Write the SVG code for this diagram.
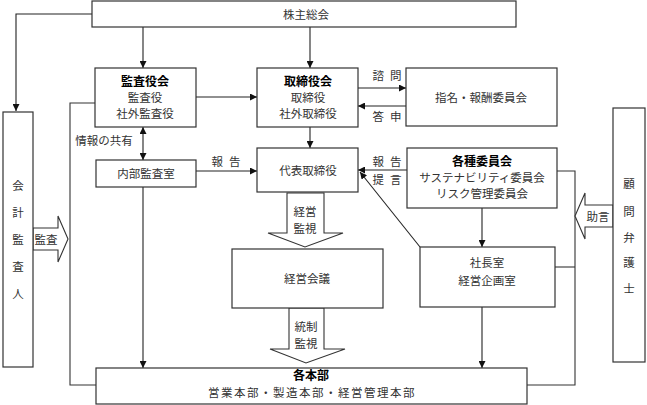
<svg xmlns="http://www.w3.org/2000/svg" width="647" height="405" viewBox="0 0 647 405">
<defs>
<marker id="ah" viewBox="0 0 10 10" refX="10" refY="5" markerWidth="7" markerHeight="7" markerUnits="userSpaceOnUse" orient="auto-start-reverse">
<path d="M0,0 L10,5 L0,10 z" fill="#111"/>
</marker>
<style>
.box{fill:#fff;stroke:#333;stroke-width:1.2}
.t{font-family:"Noto Sans CJK JP","Noto Sans",sans-serif;font-size:11.5px;fill:#333;text-anchor:middle}
.b{font-weight:bold;fill:#000;font-size:12px}
.sp{letter-spacing:6px}
.ln{fill:none;stroke:#333;stroke-width:1.1}
.ar{fill:none;stroke:#222;stroke-width:1.1;marker-end:url(#ah)}
.blk{fill:#fff;stroke:#333;stroke-width:1.1}
</style>
</defs>
<rect width="647" height="405" fill="#fff"/>

<g id="connectors">
<path class="ar" d="M92,14 H16 V111"/>
<path class="ar" d="M143,27 V68"/>
<path class="ar" d="M310,27 V68"/>
<path class="ar" d="M196,97 H257"/>
<path class="ar" d="M358,88 H406"/>
<path class="ar" d="M406,106 H358"/>
<path class="ln" d="M95,103 H70 V385 H96"/>
<path class="ar" d="M143,141 V160"/>
<path class="ar" d="M143,141 V127"/>
<path class="ar" d="M196,171 H257"/>
<path class="ar" d="M310,127 V148"/>
<path class="ar" d="M143,187 V368"/>
<path class="ar" d="M407,170 H358"/>
<path class="ar" d="M420,247 L360,172"/>
<path class="ar" d="M482,208 V247"/>
<path class="ar" d="M482,307 V368"/>
<path class="ln" d="M557,171 H575 V385 H527"/>
<path class="ln" d="M555,267 H575"/>
<polygon class="blk" points="287,193 324,193 324,233 343,233 305,247 268,233 287,233"/>
<polygon class="blk" points="289,308 324,308 324,349 345,349 306,363 270,349 289,349"/>
<polygon class="blk" points="33,228 58,228 58,216 68,239 58,262 58,250 33,250"/>
<polygon class="blk" points="613,205 585,205 585,193 575,216 585,239 585,227 613,227"/>
<text class="t sp" x="390" y="80">諮問</text>
<text class="t sp" x="390" y="121">答申</text>
<text class="t" x="104" y="145">情報の共有</text>
<text class="t sp" x="229" y="166">報告</text>
<text class="t sp" x="390" y="166">報告</text>
<text class="t sp" x="390" y="184">提言</text>
<text class="t" x="305" y="216">経営</text>
<text class="t" x="305" y="233">監視</text>
<text class="t" x="306" y="331">統制</text>
<text class="t" x="306" y="348">監視</text>
<text class="t" x="46" y="244">監査</text>
<text class="t" x="598" y="221">助言</text>
</g>

<g id="kabunushi">
<rect class="box" x="92" y="1" width="424" height="26"/>
<text class="t" x="306" y="19">株主総会</text>
</g>

<g id="kansayakukai">
<rect class="box" x="95" y="68" width="101" height="59"/>
<text class="t b" x="145" y="86">監査役会</text>
<text class="t" x="145" y="102">監査役</text>
<text class="t" x="145" y="118">社外監査役</text>
</g>

<g id="torishimariyakukai">
<rect class="box" x="257" y="68" width="101" height="59"/>
<text class="t b" x="308" y="86">取締役会</text>
<text class="t" x="308" y="102">取締役</text>
<text class="t" x="308" y="118">社外取締役</text>
</g>

<g id="shimei">
<rect class="box" x="406" y="68" width="151" height="58"/>
<text class="t" x="481" y="102">指名・報酬委員会</text>
</g>

<g id="naibukansa">
<rect class="box" x="96" y="160" width="100" height="27"/>
<text class="t" x="146" y="178">内部監査室</text>
</g>

<g id="daihyo">
<rect class="box" x="257" y="148" width="101" height="44"/>
<text class="t" x="308" y="175">代表取締役</text>
</g>

<g id="kakushu">
<rect class="box" x="407" y="148" width="150" height="60"/>
<text class="t b" x="482" y="166">各種委員会</text>
<text class="t" x="482" y="182">サステナビリティ委員会</text>
<text class="t" x="482" y="198">リスク管理委員会</text>
</g>

<g id="keieikaigi">
<rect class="box" x="232" y="249" width="151" height="59"/>
<text class="t" x="307" y="283">経営会議</text>
</g>

<g id="shachoshitsu">
<rect class="box" x="420" y="247" width="135" height="60"/>
<text class="t" x="487" y="267">社長室</text>
<text class="t" x="487" y="285">経営企画室</text>
</g>

<g id="kakuhonbu">
<rect class="box" x="96" y="368" width="431" height="36"/>
<text class="t b" x="311" y="380">各本部</text>
<text class="t" x="312" y="397" style="letter-spacing:1.5px">営業本部・製造本部・経営管理本部</text>
</g>

<g id="kaikeikansanin">
<rect class="box" x="3" y="112" width="30" height="255"/>
<text class="t" x="18" y="190">会</text>
<text class="t" x="18" y="217">計</text>
<text class="t" x="18" y="244">監</text>
<text class="t" x="18" y="271">査</text>
<text class="t" x="18" y="298">人</text>
</g>

<g id="komon">
<rect class="box" x="613" y="108" width="32" height="254"/>
<text class="t" x="629" y="188">顧</text>
<text class="t" x="629" y="216">問</text>
<text class="t" x="629" y="242">弁</text>
<text class="t" x="629" y="267">護</text>
<text class="t" x="629" y="293">士</text>
</g>
</svg>
